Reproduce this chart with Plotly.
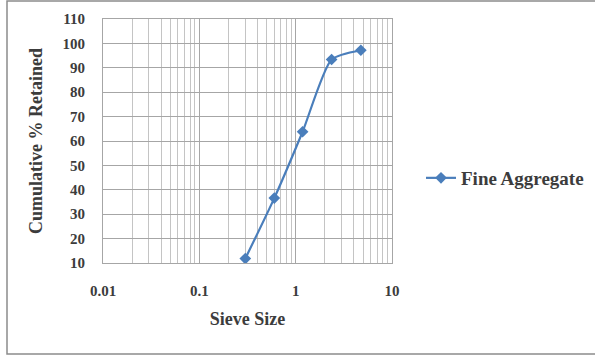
import plotly.graph_objects as go

# Sieve analysis of fine aggregate
sieve_size_mm = [0.3, 0.6, 1.18, 2.36, 4.75]
cum_retained_pct = [11.8, 36.6, 63.8, 93.4, 97.2]
series_name = "Fine Aggregate"

W, H = 595, 356
L, R, T, B = 103, 203, 19, 93
pw, ph = W - L - R, H - T - B


def px_x(v):
    return (v - L) / pw


def px_y(v):
    return (H - B - v) / ph


serif = "Liberation Serif, Times New Roman, serif"
ink = "#3c3c3c"
blue = "#4A7EBB"

fig = go.Figure()
fig.add_trace(go.Scatter(
    x=sieve_size_mm, y=cum_retained_pct, name="<b>" + series_name + "</b>",
    mode="lines+markers",
    line=dict(color=blue, width=2.2, shape="spline", smoothing=0.6),
    marker=dict(symbol="diamond", size=9, color=blue),
    showlegend=True,
))

grid = "#a6a6a6"
fig.update_xaxes(
    type="log", range=[-2, 1],
    tickvals=[0.01, 0.1, 1, 10],
    ticktext=["<b>0.01</b>", "<b>0.1</b>", "<b>1</b>", "<b>10</b>"],
    showgrid=True, gridcolor=grid, gridwidth=1,
    minor=dict(showgrid=True, gridcolor="#c4c4c4", gridwidth=1,
               dtick="D1", ticks=""),
    showline=True, linecolor=grid, mirror=True,
    ticks="", ticklabelstandoff=14,
    tickfont=dict(family=serif, size=15, color=ink),
    title=dict(text="<b>Sieve Size</b>", font=dict(family=serif, size=18, color=ink),
               standoff=14),
    zeroline=False, automargin=False,
)
fig.update_yaxes(
    range=[10, 110], dtick=10,
    showgrid=True, gridcolor=grid, gridwidth=1,
    showline=True, linecolor=grid, mirror=True,
    ticks="", ticklabelstandoff=14,
    tickprefix="<b>", ticksuffix="</b>",
    tickfont=dict(family=serif, size=15, color=ink),
    title=dict(text="<b>Cumulative % Retained</b>",
               font=dict(family=serif, size=18, color=ink), standoff=15),
    zeroline=False, automargin=False,
)

# Outer chart frame
fig.add_shape(type="rect", xref="paper", yref="paper",
              x0=px_x(7), x1=px_x(600), y0=px_y(354), y1=px_y(1),
              line=dict(color="#8c8c8c", width=1.5), fillcolor="rgba(0,0,0,0)")

fig.update_layout(
    width=W, height=H,
    margin=dict(l=L, r=R, t=T, b=B, autoexpand=False),
    paper_bgcolor="white", plot_bgcolor="white",
    legend=dict(x=px_x(421), y=px_y(178), xanchor="left", yanchor="middle",
                font=dict(family=serif, size=19, color=ink),
                bgcolor="rgba(0,0,0,0)", itemwidth=30),
)

fig.write_html("out.html")
